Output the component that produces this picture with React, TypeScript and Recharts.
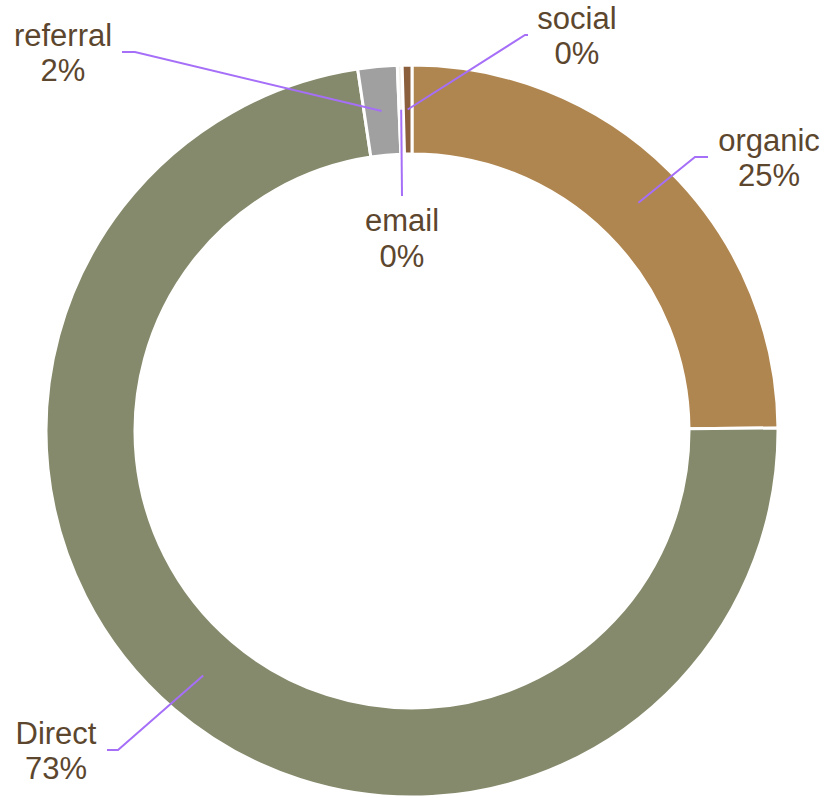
import React from 'react';
import { PieChart, Pie, Cell } from 'recharts';

// ---- data ----
const categories = ['organic', 'Direct', 'referral', 'email', 'social'];
const shares = [24.85, 72.7, 1.73, 0.21, 0.43];

const data = categories.map((name, i) => ({ name, value: shares[i] }));

// ---- styles ----
const COLORS: Record<string, string> = {
  organic: '#B08650',
  Direct: '#868A6C',
  referral: '#A0A0A0',
  email: '#F4F1EC',
  social: '#8B5E3C',
};
const TEXT_COLOR = '#5C462E';
const LINE_COLOR = '#A66FF8';
const FONT = '"Liberation Sans", Arial, Helvetica, sans-serif';

// label elbow offsets (from pie centre), tail length, text centre offset from tail end
const LABEL_LAYOUT: Record<string, { dx: number; dy: number; tail: number; text: number; below?: boolean }> = {
  organic: { dx: 283, dy: -274, tail: 13, text: 61 },
  Direct: { dx: -294, dy: 319, tail: -11, text: -51 },
  referral: { dx: -277, dy: -379, tail: -13, text: -59 },
  social: { dx: 113, dy: -396, tail: 3, text: 49 },
  email: { dx: -10, dy: -235, tail: 0, text: 0, below: true },
};

const RAD = Math.PI / 180;

const renderLabel = (props: any) => {
  const { cx, cy, midAngle, innerRadius, outerRadius, name, percent } = props;
  const L = LABEL_LAYOUT[name];
  if (!L) return null;
  const rm = (innerRadius + outerRadius) / 2;
  const sx = cx + rm * Math.cos(-midAngle * RAD);
  const sy = cy + rm * Math.sin(-midAngle * RAD);
  const ex = cx + L.dx;
  const ey = cy + L.dy;
  const tx = ex + L.tail;
  const textX = tx + L.text;
  const y1 = L.below ? ey + 35 : ey - 6;
  const y2 = L.below ? ey + 71 : ey + 29;
  const pct = Math.round(percent * 100) + '%';
  return (
    <g key={'lbl-' + name}>
      <polyline
        points={`${sx},${sy} ${ex},${ey} ${tx},${ey}`}
        fill="none"
        stroke={LINE_COLOR}
        strokeWidth={2}
      />
      <text x={textX} y={y1} textAnchor="middle" fill={TEXT_COLOR} fontSize={31} fontFamily={FONT}>
        {name}
      </text>
      <text x={textX} y={y2} textAnchor="middle" fill={TEXT_COLOR} fontSize={31} fontFamily={FONT}>
        {pct}
      </text>
    </g>
  );
};

export default function App() {
  return (
    <div style={{ position: 'absolute', left: 0, top: 0, width: 831, height: 798 }}>
      <PieChart width={831} height={798} margin={{ top: 0, right: 0, bottom: 0, left: 0 }}>
        <Pie
          data={data}
          dataKey="value"
          nameKey="name"
          cx={412}
          cy={431}
          innerRadius={277}
          outerRadius={366}
          startAngle={90}
          endAngle={-270}
          stroke="#ffffff"
          strokeWidth={3}
          label={renderLabel}
          labelLine={false}
          isAnimationActive={false}
        >
          {data.map((d) => (
            <Cell key={d.name} fill={COLORS[d.name]} />
          ))}
        </Pie>
      </PieChart>
    </div>
  );
}
